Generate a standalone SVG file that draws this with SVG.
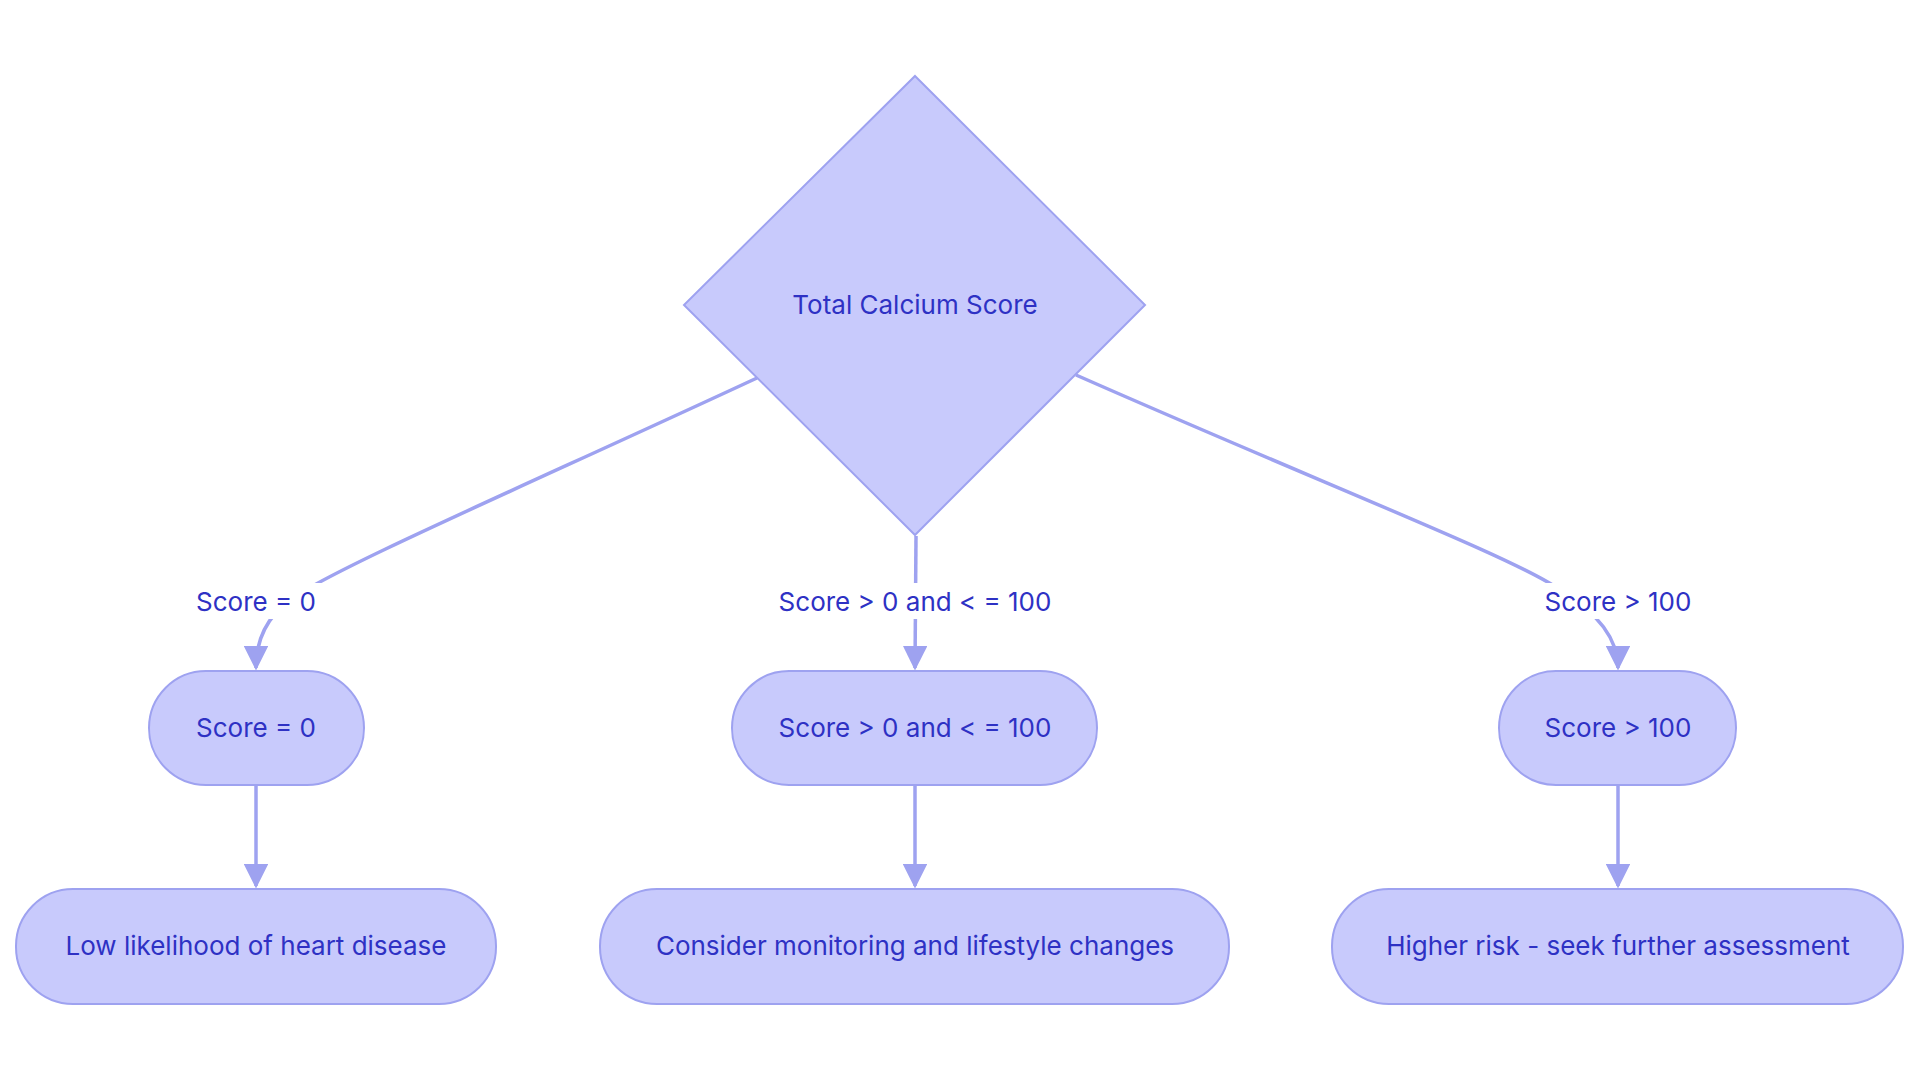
<svg xmlns="http://www.w3.org/2000/svg" width="1920" height="1083" viewBox="0 0 1920 1083">
<style>
.n{fill:#c8cafc;stroke:#9ea2f0;stroke-width:2}
.t{font-family:Inter,"Noto Sans",sans-serif;font-size:26px;fill:#2e31c4;text-anchor:middle;dominant-baseline:central}
.e{fill:none;stroke:#9ea2f0;stroke-width:3.5}
.lb{fill:#ffffff}
</style>
<defs><marker id="a" viewBox="0 0 10 10" refX="9" refY="5" markerWidth="7" markerHeight="7" markerUnits="strokeWidth" orient="auto"><path d="M0,0L10,5L0,10z" fill="#9ea2f0"/></marker></defs>
<rect width="1920" height="1083" fill="#fff"/>
<g id="edges">
<path class="e" d="M757,378 C520,488 330,570 290,600 Q256,625 256,668" marker-end="url(#a)"/>
<path class="e" d="M916,536 L915,668" marker-end="url(#a)"/>
<path class="e" d="M1076,375 C1330,487 1520,560 1560,590 Q1618,625 1618,668" marker-end="url(#a)"/>
<path class="e" d="M256,785 L256,886" marker-end="url(#a)"/>
<path class="e" d="M915,785 L915,886" marker-end="url(#a)"/>
<path class="e" d="M1618,785 L1618,886" marker-end="url(#a)"/>
<rect class="lb" x="188" y="583" width="136" height="36"/>
<text class="t" x="256" y="601">Score = 0</text>
<rect class="lb" x="770" y="583" width="290" height="36"/>
<text class="t" x="915" y="601">Score &gt; 0 and &lt; = 100</text>
<rect class="lb" x="1537" y="583" width="162" height="36"/>
<text class="t" x="1618" y="601">Score &gt; 100</text>
</g>
<g id="decision"><path class="n" d="M915,76 L1145,305 L915,535 L684,305 Z"/><text class="t" x="915" y="304">Total Calcium Score</text></g>
<g id="s0"><rect class="n" x="149" y="671" width="215" height="114" rx="57"/><text class="t" x="256" y="727">Score = 0</text></g>
<g id="s1"><rect class="n" x="732" y="671" width="365" height="114" rx="57"/><text class="t" x="915" y="727">Score &gt; 0 and &lt; = 100</text></g>
<g id="s2"><rect class="n" x="1499" y="671" width="237" height="114" rx="57"/><text class="t" x="1618" y="727">Score &gt; 100</text></g>
<g id="r0"><rect class="n" x="16" y="889" width="480" height="115" rx="57"/><text class="t" x="256" y="945">Low likelihood of heart disease</text></g>
<g id="r1"><rect class="n" x="600" y="889" width="629" height="115" rx="57"/><text class="t" x="915" y="945">Consider monitoring and lifestyle changes</text></g>
<g id="r2"><rect class="n" x="1332" y="889" width="571" height="115" rx="57"/><text class="t" x="1618" y="945">Higher risk - seek further assessment</text></g>
</svg>
